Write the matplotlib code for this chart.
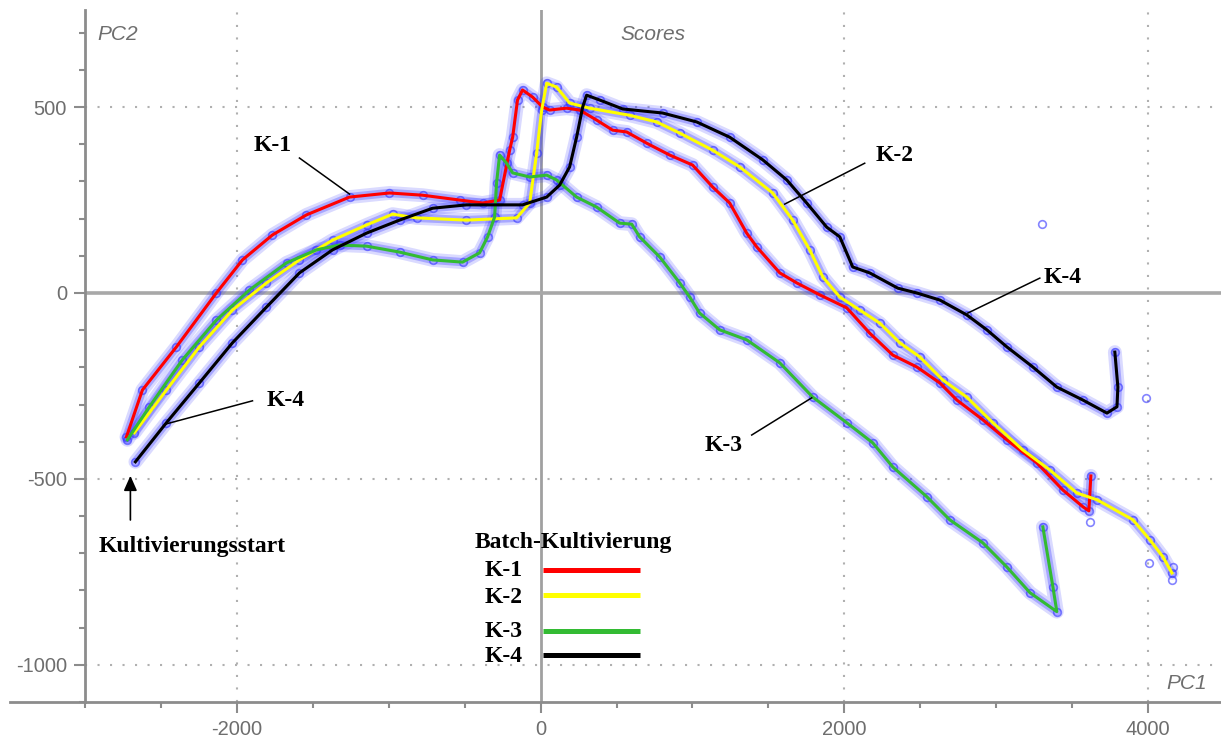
import matplotlib
matplotlib.use("Agg")
import matplotlib.pyplot as plt
from matplotlib.lines import Line2D

# ---------------- data (PC1, PC2 scores) ----------------
k1_x = [-2727, -2622, -2398, -2135, -1963, -1766, -1542, -1258, -995, -777, -534, -382, -270,
        -204, -184, -152, -119, -53, 13, 59, 171, 257, 369, 474, 567, 698, 850, 1001, 1133,
        1245, 1357, 1423, 1575, 1687, 1838, 2016, 2167, 2319, 2477, 2629, 2741, 2912, 3070,
        3268, 3439, 3571, 3610, 3623]
k1_y = [-387, -261, -145, 0, 89, 156, 210, 258, 269, 263, 250, 242, 250,
        384, 419, 519, 546, 527, 500, 492, 497, 492, 465, 438, 433, 403, 371, 344, 285,
        242, 161, 124, 54, 27, -5, -40, -108, -167, -199, -242, -288, -341, -395,
        -457, -530, -575, -586, -492]

k2_x = [-2675, -2464, -2247, -2029, -1805, -1588, -1370, -1146, -975, -817, -488, -158, -72,
        -26, 7, 40, 105, 191, 323, 586, 764, 916, 1133, 1311, 1528, 1660, 1772, 1858, 1970,
        2102, 2233, 2365, 2497, 2648, 2806, 2978, 3175, 3353, 3531, 3663, 3900, 4012, 4098, 4157]
k2_y = [-376, -261, -145, -46, 27, 89, 142, 183, 212, 202, 196, 202, 242,
        376, 492, 564, 554, 511, 497, 478, 460, 430, 384, 339, 269, 196, 116, 43, -11,
        -46, -81, -134, -172, -234, -280, -349, -422, -476, -538, -556, -610, -664, -710, -753]

k3_x = [-2721, -2576, -2359, -2135, -1917, -1673, -1476, -1324, -1146, -929, -711, -514, -402,
        -349, -303, -290, -270, -224, -184, -72, 40, 105, 237, 369, 520, 600, 652, 784, 916,
        982, 1047, 1179, 1357, 1575, 1792, 2016, 2187, 2319, 2543, 2694, 2912, 3070, 3222,
        3399, 3373, 3307]
k3_y = [-395, -306, -180, -73, 8, 81, 116, 129, 126, 110, 89, 83, 108,
        151, 204, 296, 371, 349, 323, 312, 317, 304, 258, 231, 188, 185, 151, 97, 27,
        -11, -54, -99, -126, -188, -280, -349, -403, -468, -548, -610, -672, -737, -806,
        -857, -790, -629]

k4_x = [-2668, -2464, -2247, -2029, -1805, -1588, -1370, -1146, -929, -711, -488, -119, 40,
        125, 191, 237, 277, 303, 389, 540, 804, 1028, 1245, 1463, 1621, 1752, 1884, 1970,
        2055, 2167, 2352, 2477, 2629, 2806, 2938, 3070, 3241, 3399, 3571, 3729, 3795, 3801, 3781]
k4_y = [-454, -349, -242, -134, -38, 54, 116, 161, 196, 228, 237, 237, 258,
        290, 339, 419, 500, 532, 519, 495, 484, 460, 419, 358, 304, 242, 177, 151,
        70, 54, 13, 0, -19, -59, -99, -145, -199, -253, -288, -323, -306, -253, -159]

extra_x = [3300, 3989, 3617, 4006, 4164, 4157]
extra_y = [185, -282, -616, -726, -737, -771]

series_names = ["K-1", "K-2", "K-3", "K-4"]
series_colors = ["#ff0000", "#ffff00", "#33bb33", "#000000"]
series_x = [k1_x, k2_x, k3_x, k4_x]
series_y = [k1_y, k2_y, k3_y, k4_y]

x_major = [-2000, 0, 2000, 4000]
y_major = [-1000, -500, 0, 500]

# ---------------- figure ----------------
fig = plt.figure(figsize=(12.21, 7.38), dpi=100)
ax = fig.add_axes([0.0696, 0.0488, 0.9304, 0.9376])
ax.set_xlim(-3000, 4480)
ax.set_ylim(-1100, 761)

gray = "#8c8c8c"
txtgray = "#6e6e6e"
blue = (0.2, 0.2, 1.0)

# grid
for gx in x_major:
    if gx != 0:
        ax.axvline(gx, color="#b0b0b0", lw=1.5, ls=(0, (1, 5)), zorder=0)
for gy in y_major:
    if gy != 0:
        ax.axhline(gy, color="#b0b0b0", lw=1.5, ls=(0, (1, 5)), zorder=0)
ax.axvline(0, color="#a0a0a0", lw=2.0, zorder=1)
ax.axhline(0, color="#a8a8a8", lw=2.6, zorder=1)

# spines / ticks
for s in ["top", "right"]:
    ax.spines[s].set_visible(False)
for s in ["left", "bottom"]:
    ax.spines[s].set_color(gray)
    ax.spines[s].set_linewidth(2.0)
ax.add_line(Line2D([-0.066, 0], [0, 0], transform=ax.transAxes, color=gray,
                   lw=2.0, clip_on=False))

ax.set_xticks(x_major)
ax.set_yticks(y_major)
ax.set_xticks(range(-3000, 4500, 500), minor=True)
ax.set_yticks(range(-1100, 761, 100), minor=True)
ax.tick_params(which="major", length=8, width=1.5, color=gray, pad=5,
               labelsize=14.5, labelcolor=txtgray)
ax.tick_params(which="minor", length=4, width=1.5, color=gray)
ax.set_xticklabels([str(v) for v in x_major], family="Liberation Sans")
ax.set_yticklabels([str(v) for v in y_major], family="Liberation Sans")

# corner labels
ax.text(0.0105, 0.964, "PC2", transform=ax.transAxes, fontsize=15, style="italic",
        color=txtgray, family="Liberation Sans", ha="left", va="center")
ax.text(0.5, 0.964, "Scores", transform=ax.transAxes, fontsize=15, style="italic",
        color=txtgray, family="Liberation Sans", ha="center", va="center")
ax.text(0.988, 0.027, "PC1", transform=ax.transAxes, fontsize=15, style="italic",
        color=txtgray, family="Liberation Sans", ha="right", va="center")

# blue score halos + circles
for xs, ys in zip(series_x, series_y):
    ax.plot(xs, ys, color=blue, lw=10, alpha=0.18, solid_capstyle="round",
            solid_joinstyle="round", zorder=2)
    ax.plot(xs, ys, color=blue, lw=6, alpha=0.30, solid_capstyle="round",
            solid_joinstyle="round", zorder=2)
    ax.plot(xs, ys, ls="none", marker="o", ms=5.5, mfc="none", mec=blue,
            mew=1.2, alpha=0.6, zorder=3)
ax.plot(extra_x, extra_y, ls="none", marker="o", ms=5.5, mfc="none", mec=blue,
        mew=1.2, alpha=0.6, zorder=3)

# coloured batch lines
for xs, ys, c in zip(series_x, series_y, series_colors):
    ax.plot(xs, ys, color=c, lw=2.2, zorder=4, solid_joinstyle="round")

# annotations
bold = dict(family="Liberation Serif", fontweight="bold", fontsize=17, color="black")
ann = [
    ("K-1", (-1766, 398), (-1588, 363), (-1258, 266)),
    ("K-2", (2332, 371), (2134, 349), (1607, 239)),
    ("K-4", (3439, 43), (3287, 40), (2813, -54)),
    ("K-4", (-1680, -288), (-1897, -290), (-2464, -352)),
    ("K-3", (1206, -409), (1390, -382), (1785, -282)),
]
for label, tpos, p0, p1 in ann:
    ax.text(tpos[0], tpos[1], label, ha="center", va="center", **bold)
    ax.plot([p0[0], p1[0]], [p0[1], p1[1]], color="black", lw=1.1, zorder=5)

ax.annotate("", xy=(-2701, -484), xytext=(-2701, -618),
            arrowprops=dict(arrowstyle="-|>,head_length=0.9,head_width=0.4",
                            color="black", lw=1.2))
ax.text(-2293, -683, "Kultivierungsstart", ha="center", va="center", **bold)

# manual legend
ax.text(217, -672, "Batch-Kultivierung", ha="center", va="center", **bold)
leg_label_y = [-747, -820, -911, -978]
leg_line_y = [-745, -812, -909, -973]
for name, c, ly, lly in zip(series_names, series_colors, leg_label_y, leg_line_y):
    ax.text(-244, ly, name, ha="center", va="center", **bold)
    ax.plot([13, 652], [lly, lly], color=c, lw=3.6, solid_capstyle="butt", zorder=5)

fig.savefig("out.png", dpi=100)
